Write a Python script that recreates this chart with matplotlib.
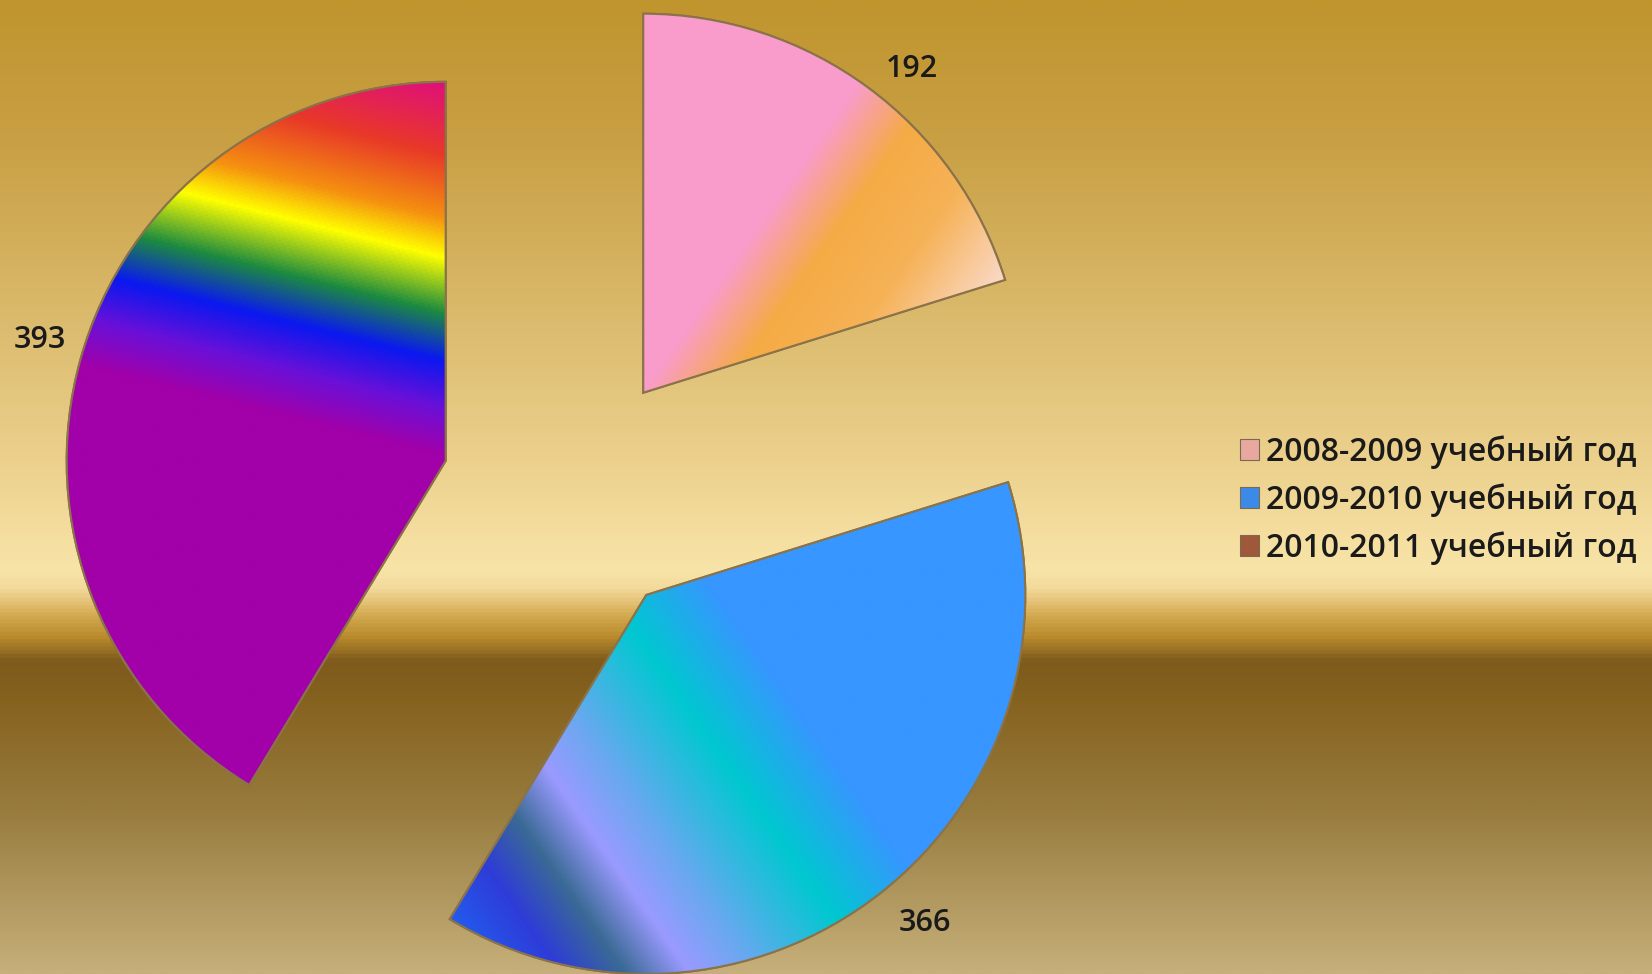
import numpy as np
import matplotlib
matplotlib.use("Agg")
import matplotlib.pyplot as plt
from matplotlib.colors import LinearSegmentedColormap
from matplotlib.patches import Patch, Wedge

plt.rcParams["font.family"] = ["Open Sans", "DejaVu Sans"]

# Data
years = ["2008-2009 учебный год", "2009-2010 учебный год", "2010-2011 учебный год"]
counts = [192, 366, 393]

# Styles: gradient fill per slice (direction in degrees, stops, colours)
fill_angles = [-35, 35, 76]
fill_stops = [
    [0.0, 0.42, 0.55, 0.70, 0.87, 1.0],
    [0.0, 0.12, 0.19, 0.26, 0.33, 0.46, 0.58, 1.0],
    [0.0, 0.53, 0.59, 0.65, 0.71, 0.78, 0.83, 0.91, 1.0],
]
fill_colors = [
    ["#F99CCB", "#F99CCB", "#F5AB45", "#F6B257", "#FAD8C4", "#FCE8E0"],
    ["#1E6AF8", "#2E3CD8", "#3A6A95", "#9A9AFF", "#6AA8F0", "#00C8D0", "#3796FF", "#3796FF"],
    ["#A200A8", "#A200A8", "#6A10D8", "#0A18F0", "#1C8A40", "#FFFF00", "#F59010", "#E83828", "#E0107A"],
]
legend_colors = ["#E8A8A0", "#3C8AE8", "#A0583A"]
edge_color = "#8A7348"
label_nudge = [(17, -18), (17, 6), (3, 7)]

# Background (vertical gradient, top -> bottom)
bg_stops = [0.0, 0.15, 0.35, 0.5, 0.585, 0.605, 0.63, 0.655, 0.68, 0.72, 0.83, 1.0]
bg_colors = ["#C0952E", "#C9A045", "#DDBE72", "#EFD593", "#F8E4A8", "#F3D99B",
             "#D6AE55", "#B98A2C", "#7E5A1C", "#86621F", "#977B3D", "#C6AF7A"]

W, H = 1652, 974
fig = plt.figure(figsize=(W / 100, H / 100), dpi=100)

ax_bg = fig.add_axes([0, 0, 1, 1], zorder=0)
bg_cmap = LinearSegmentedColormap.from_list("bg", list(zip(bg_stops, bg_colors)))
ax_bg.imshow(np.linspace(0, 1, 800).reshape(-1, 1), cmap=bg_cmap, aspect="auto",
             extent=(0, 1, 0, 1), origin="upper", interpolation="bilinear")
ax_bg.axis("off")

ax = fig.add_axes([0, 0, 1, 1], zorder=1)
ax.patch.set_visible(False)

wedges, texts = ax.pie(
    counts,
    labels=[str(c) for c in counts],
    colors=legend_colors,
    center=(568, 479),
    radius=379,
    explode=[127] * len(counts),
    startangle=90,
    counterclock=False,
    labeldistance=1.12,
    wedgeprops=dict(edgecolor=edge_color, linewidth=1.5),
    textprops=dict(fontsize=22, color="#1A1A1A", fontweight="semibold"),
)
for t, (dx, dy) in zip(texts, label_nudge):
    x, y = t.get_position()
    t.set_position((x + dx, y + dy))
    t.set_horizontalalignment("center")
    t.set_verticalalignment("center")

# gradient fills clipped to each wedge
for w, ang, stops, cols in zip(wedges, fill_angles, fill_stops, fill_colors):
    bb = w.get_path().get_extents()
    xs = np.linspace(bb.x0, bb.x1, 400)
    ys = np.linspace(bb.y0, bb.y1, 400)
    X, Y = np.meshgrid(xs, ys)
    a = np.deg2rad(ang)
    p = X * np.cos(a) + Y * np.sin(a)
    tnorm = (p - p.min()) / (p.max() - p.min())
    cmap = LinearSegmentedColormap.from_list("f", list(zip(stops, cols)))
    im = ax.imshow(tnorm, cmap=cmap, extent=(bb.x0, bb.x1, bb.y0, bb.y1),
                   origin="lower", aspect="auto", interpolation="bilinear",
                   zorder=w.get_zorder() + 0.1)
    im.set_clip_path(w)
    ax.add_patch(Wedge(w.center, w.r, w.theta1, w.theta2, fill=False,
                       edgecolor=edge_color, linewidth=1.5,
                       zorder=w.get_zorder() + 0.2))

ax.set_xlim(0, W)
ax.set_ylim(0, H)
ax.axis("off")

handles = [Patch(facecolor=c, edgecolor="#7A6A50", linewidth=0.8) for c in legend_colors]
fig.legend(handles, years, loc="center left",
           bbox_to_anchor=(1240 / W, 1 - 500 / H),
           frameon=False, prop=dict(size=23, weight="semibold"), labelcolor="#1A1A1A",
           handlelength=0.6, handleheight=0.6, handletextpad=0.2,
           labelspacing=0.45, borderpad=0, borderaxespad=0)

plt.savefig("out.png", dpi=100)
